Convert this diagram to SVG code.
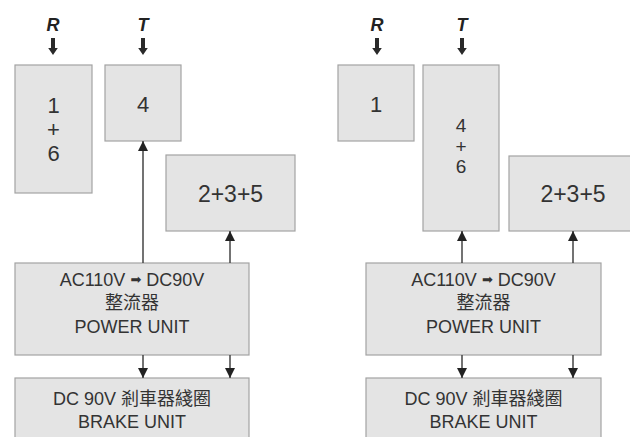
<svg xmlns="http://www.w3.org/2000/svg" width="630" height="437" viewBox="0 0 630 437">
<style>
.box{fill:#e4e4e4;stroke:#a3a3a3;stroke-width:1.2}
.t{font-family:"Liberation Sans",Arial,"Noto Sans CJK TC",sans-serif;fill:#333;text-anchor:middle}
.num{font-size:22px}
.lab{font-size:18px}
.ph{font-family:"Liberation Sans",Arial,sans-serif;font-size:18px;font-weight:bold;font-style:italic;fill:#222;text-anchor:middle}
.con{stroke:#444;stroke-width:1.5;fill:none;marker-end:url(#ah)}
.fat{fill:#2a2a2a}
</style>
<defs>
<marker id="ah" viewBox="0 0 10 10" refX="10" refY="5" markerWidth="10" markerHeight="10" markerUnits="userSpaceOnUse" orient="auto">
<path d="M0,0 L10,5 L0,10 z" fill="#222"/>
</marker>
<path id="fatdown" d="M-2,0 H2 V10 H4.8 L0,17 L-4.8,10 H-2 z"/>
</defs>
<rect width="630" height="437" fill="#fff"/>

<!-- LEFT PANEL -->
<g id="R1"><text class="ph" x="53" y="31">R</text><use href="#fatdown" class="fat" x="53" y="38"/></g>
<g id="T1"><text class="ph" x="143" y="31">T</text><use href="#fatdown" class="fat" x="143" y="38"/></g>
<g id="box16">
<rect class="box" x="15" y="65" width="77" height="128"/>
<text class="t num" x="53.5" y="113">1</text>
<text class="t num" x="53.5" y="137">+</text>
<text class="t num" x="53.5" y="161">6</text>
</g>
<g id="box4">
<rect class="box" x="105" y="65" width="76" height="76"/>
<text class="t num" x="143" y="112">4</text>
</g>
<g id="box235a">
<rect class="box" x="166" y="155" width="129" height="76"/>
<text class="t" font-size="23" x="230.5" y="202">2+3+5</text>
</g>
<g id="power1">
<rect class="box" x="15" y="263" width="234" height="92"/>
<text class="t lab" x="132" y="286">AC110V&#160;<tspan font-family="DejaVu Sans,sans-serif" font-size="13" dy="-2">➡</tspan><tspan dy="2">&#160;DC90V</tspan></text>
<text class="t lab" x="132" y="309">整流器</text>
<text class="t lab" x="132" y="333">POWER UNIT</text>
</g>
<g id="brake1">
<rect class="box" x="15" y="378" width="234" height="70"/>
<text class="t lab" x="132" y="405">DC 90V 剎車器綫圈</text>
<text class="t lab" x="132" y="428">BRAKE UNIT</text>
</g>

<!-- RIGHT PANEL -->
<g id="R2"><text class="ph" x="377" y="31">R</text><use href="#fatdown" class="fat" x="377" y="38"/></g>
<g id="T2"><text class="ph" x="462" y="31">T</text><use href="#fatdown" class="fat" x="462" y="38"/></g>
<g id="box1">
<rect class="box" x="338" y="65" width="76" height="76"/>
<text class="t num" x="376" y="112">1</text>
</g>
<g id="box46">
<rect class="box" x="423" y="65" width="76" height="166"/>
<text class="t" font-size="19" x="461" y="132">4</text>
<text class="t" font-size="19" x="461" y="152.5">+</text>
<text class="t" font-size="19" x="461" y="173">6</text>
</g>
<g id="box235b">
<rect class="box" x="509" y="156" width="135" height="75"/>
<text class="t" font-size="23" x="573" y="202">2+3+5</text>
</g>
<g id="power2">
<rect class="box" x="366" y="263" width="235" height="92"/>
<text class="t lab" x="483.5" y="286">AC110V&#160;<tspan font-family="DejaVu Sans,sans-serif" font-size="13" dy="-2">➡</tspan><tspan dy="2">&#160;DC90V</tspan></text>
<text class="t lab" x="483.5" y="309">整流器</text>
<text class="t lab" x="483.5" y="333">POWER UNIT</text>
</g>
<g id="brake2">
<rect class="box" x="366" y="378" width="235" height="70"/>
<text class="t lab" x="483.5" y="405">DC 90V 剎車器綫圈</text>
<text class="t lab" x="483.5" y="428">BRAKE UNIT</text>
</g>

<g id="connectors">
<line class="con" x1="143" y1="263" x2="143" y2="141"/>
<line class="con" x1="230" y1="263" x2="230" y2="231"/>
<line class="con" x1="143" y1="355" x2="143" y2="378"/>
<line class="con" x1="230" y1="355" x2="230" y2="378"/>
<line class="con" x1="462" y1="263" x2="462" y2="231"/>
<line class="con" x1="573" y1="263" x2="573" y2="231"/>
<line class="con" x1="462" y1="355" x2="462" y2="378"/>
<line class="con" x1="573" y1="355" x2="573" y2="378"/>
</g>
</svg>
